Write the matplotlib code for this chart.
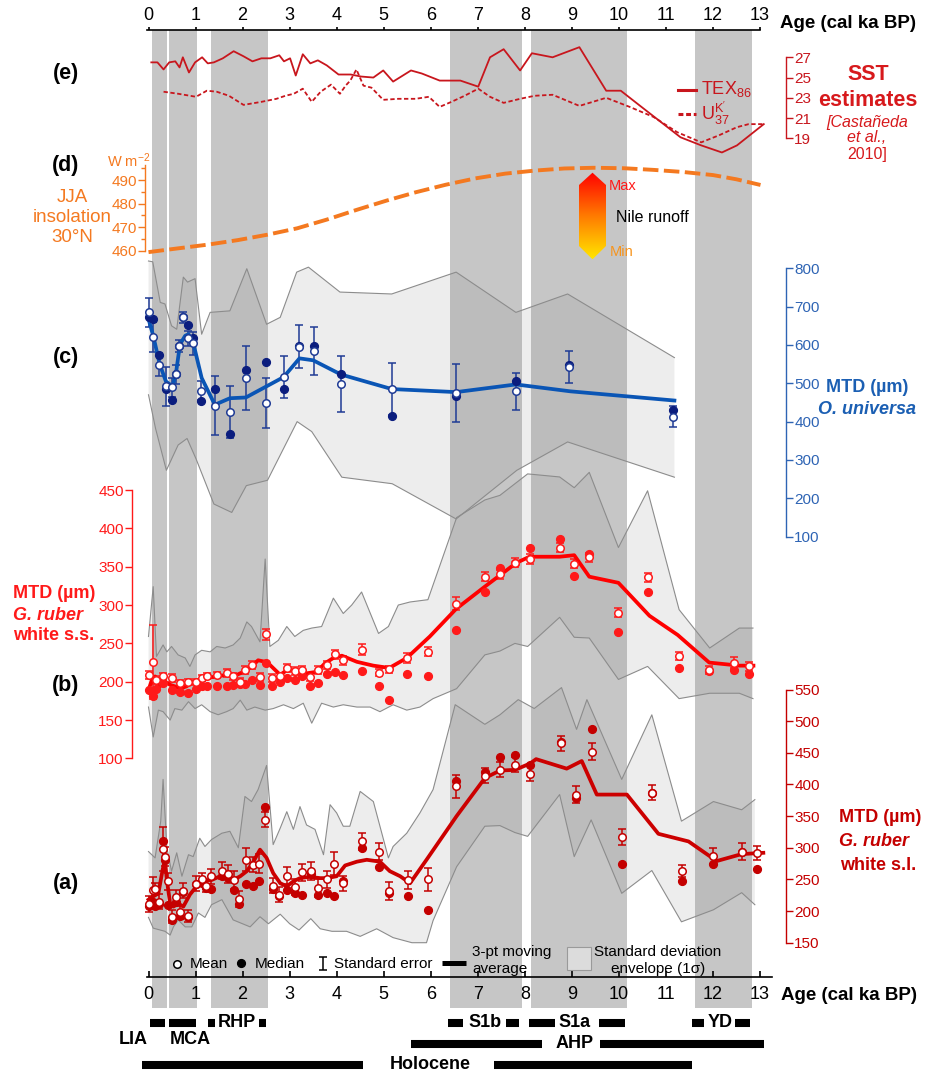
import numpy as np
import matplotlib
matplotlib.use('Agg')
import matplotlib.pyplot as plt
from matplotlib.patches import Polygon, Rectangle
from matplotlib.colors import LinearSegmentedColormap

plt.rcParams['font.family'] = ['Liberation Sans', 'DejaVu Sans']
plt.rcParams['mathtext.fontset'] = 'custom'
plt.rcParams['mathtext.rm'] = 'Liberation Sans'
plt.rcParams['mathtext.it'] = 'Liberation Sans:italic'

# ---------------- data (ages in cal ka BP) ----------------
# grey climate intervals
band_start = [0.07, 0.44, 1.32, 6.42, 8.13, 11.62]
band_end = [0.40, 1.04, 2.53, 7.93, 10.17, 12.82]

# (e) SST estimates, Castaneda et al. 2010
tex_age = [0.06, 0.19, 0.32, 0.44, 0.57, 0.66, 0.73, 0.86, 0.99, 1.14, 1.26, 1.39, 1.58, 1.81,
           2.02, 2.21, 2.40, 2.59, 2.78, 2.88, 3.01, 3.13, 3.28, 3.44, 3.60, 3.79, 4.04, 4.30,
           4.52, 4.78, 4.99, 5.20, 5.58, 5.81, 6.19, 6.44, 6.63, 7.01, 7.26, 7.55, 7.90, 8.15,
           8.59, 9.16, 9.73, 10.04, 10.48, 11.31, 11.75, 12.19, 12.51, 13.08]
tex_sst = [26.5, 26.5, 25.8, 26.5, 26.6, 26.0, 27.0, 25.5, 26.5, 27.0, 26.4, 26.5, 26.9, 27.6,
           27.1, 26.6, 26.9, 26.9, 27.2, 26.6, 26.9, 25.2, 27.3, 26.4, 26.7, 26.2, 25.3, 25.3,
           25.1, 25.0, 25.7, 24.6, 25.7, 25.4, 24.7, 24.7, 24.7, 24.1, 27.0, 27.8, 25.7, 27.4,
           27.0, 28.0, 23.7, 23.7, 22.1, 19.1, 18.3, 17.6, 18.3, 20.4]
uk_age = [0.32, 0.63, 1.01, 1.24, 1.45, 1.71, 2.02, 2.40, 2.72, 2.91, 3.09, 3.28, 3.47, 3.66,
          3.88, 4.07, 4.19, 4.29, 4.42, 4.57, 4.74, 4.99, 5.31, 5.68, 5.96, 6.19, 6.44, 6.72,
          7.01, 7.26, 7.55, 7.90, 8.21, 8.59, 9.16, 9.73, 10.23, 10.74, 11.24, 11.75, 12.13,
          12.51, 12.76, 13.08]
uk_sst = [23.6, 23.4, 23.1, 23.7, 23.6, 23.2, 22.3, 22.6, 22.9, 23.2, 23.4, 23.9, 22.6, 23.6,
          24.3, 23.4, 24.2, 24.7, 25.8, 24.2, 24.0, 22.8, 22.9, 22.9, 23.1, 22.1, 22.6, 23.2,
          23.9, 23.1, 22.5, 22.9, 23.2, 23.3, 22.2, 23.0, 22.1, 21.1, 19.6, 18.6, 19.3,
          20.1, 20.4, 20.4]

# (d) JJA insolation 30N
ins_age = [0.0, 0.63, 1.27, 1.90, 2.53, 3.16, 3.79, 4.42, 5.05, 5.68, 6.32, 6.95, 7.58, 8.21,
           8.84, 9.47, 10.11, 10.74, 11.37, 12.0, 12.5, 13.01]
ins_val = [459.4, 461.0, 462.6, 464.5, 466.8, 469.5, 473.2, 477.3, 481.2, 484.8, 488.0, 490.7,
           492.7, 494.0, 494.9, 495.2, 495.0, 494.3, 493.4, 492.1, 490.3, 487.9]

# (c) O. universa
c_age = [0.01, 0.09, 0.23, 0.37, 0.51, 0.58, 0.65, 0.74, 0.83, 0.95, 1.12, 1.41, 1.73, 2.07,
         2.49, 2.87, 3.21, 3.52, 4.09, 5.17, 6.54, 7.81, 8.94, 11.15]
c_mean = [685, 621, 549, 492, 490, 523, 597, 672, 617, 604, 481, 442, 426, 514, 449, 516, 595,
          584, 498, 485, 475, 479, 542, 413]
c_median = [672, 668, 575, 486, 457, 523, 597, 672, 653, 619, 454, 486, 367, 534, 555, 485, 597,
            597, 524, 415, 467, 507, 547, 431]
c_se = [37, 40, 30, 50, 25, 25, 15, 15, 20, 30, 25, 76, 68, 83, 65, 54, 56, 62, 73, 68, 75, 48,
        42, 28]
c_ma_age = [0.00, 0.10, 0.24, 0.37, 0.51, 0.58, 0.67, 0.78, 0.85, 0.95, 1.13, 1.41, 1.73, 2.07,
            2.87, 3.21, 3.50, 4.09, 5.17, 6.54, 7.81, 8.97, 11.18]
c_ma = [668, 624, 549, 505, 492, 523, 602, 624, 628, 606, 514, 444, 461, 463, 516, 565, 560,
        523, 485, 477, 497, 479, 455]
c_up_age = [0.00, 0.09, 0.25, 0.35, 0.49, 0.60, 0.74, 0.83, 0.99, 1.13, 1.31, 1.73, 2.09, 2.51,
            2.80, 3.15, 3.40, 4.07, 5.17, 6.54, 7.81, 8.91, 11.18]
c_up = [819, 817, 711, 707, 650, 641, 777, 764, 773, 628, 685, 689, 799, 654, 672, 790, 803,
        738, 733, 790, 685, 733, 567]
c_lo_age = [0.00, 0.15, 0.38, 0.63, 0.82, 1.01, 1.39, 1.77, 2.08, 2.53, 3.16, 3.47, 4.11, 5.18,
            6.54, 7.83, 8.91, 11.18]
c_lo = [470, 382, 273, 339, 356, 303, 185, 163, 233, 247, 400, 374, 255, 238, 146, 273, 347, 255]

# (b) G. ruber white s.s.
b_age = [0.00, 0.10, 0.17, 0.30, 0.49, 0.67, 0.85, 1.01, 1.13, 1.24, 1.45, 1.66, 1.80, 1.95,
         2.05, 2.19, 2.36, 2.49, 2.62, 2.80, 2.94, 3.11, 3.27, 3.43, 3.61, 3.79, 3.96, 4.14,
         4.53, 4.91, 5.12, 5.49, 5.95, 6.53, 7.16, 7.47, 7.79, 8.10, 8.74, 9.05, 9.37, 9.99,
         10.62, 11.28, 11.92, 12.45, 12.77]
b_mean = [209, 226, 202, 207, 205, 198, 200, 200, 205, 207, 209, 211, 207, 200, 215, 222, 206,
          262, 205, 207, 218, 214, 215, 206, 215, 222, 236, 228, 242, 212, 216, 231, 239, 302,
          337, 340, 355, 360, 375, 354, 362, 290, 336, 234, 215, 225, 220]
b_median = [189, 181, 191, 198, 189, 187, 185, 191, 194, 194, 194, 194, 196, 197, 197, 202, 196,
            225, 194, 200, 205, 202, 207, 194, 199, 210, 213, 209, 214, 194, 176, 210, 207, 268,
            317, 348, 355, 374, 386, 338, 366, 265, 317, 218, 214, 215, 210]
b_se = [5, 48, 5, 5, 5, 4, 4, 4, 4, 4, 4, 5, 5, 5, 5, 5, 5, 7, 5, 5, 5, 5, 5, 5, 5, 5, 6, 6, 7,
        5, 5, 6, 6, 8, 6, 6, 6, 6, 6, 6, 6, 6, 6, 5, 5, 7, 6]
b_ma_age = [0.0, 0.07, 0.14, 0.24, 0.35, 0.46, 0.56, 0.67, 0.81, 0.95, 1.09, 1.24, 1.45, 1.66,
            1.88, 2.09, 2.23, 2.33, 2.48, 2.58, 2.80, 2.94, 3.15, 3.36, 3.58, 3.75, 3.93, 4.11,
            4.43, 4.78, 5.12, 5.49, 5.98, 6.54, 7.15, 7.82, 8.10, 8.74, 9.05, 9.37, 9.99, 10.65,
            11.25, 11.92, 12.56, 12.86]
b_ma = [189, 202, 207, 194, 200, 196, 194, 191, 194, 200, 202, 205, 207, 209, 209, 215, 222,
        228, 226, 222, 209, 215, 215, 211, 213, 224, 231, 234, 226, 221, 218, 231, 259, 295,
        324, 355, 363, 363, 365, 337, 329, 286, 261, 225, 221, 221]
b_up_age = [0.00, 0.10, 0.17, 0.31, 0.39, 0.49, 0.63, 0.78, 0.88, 0.99, 1.13, 1.31, 1.45, 1.63,
            1.80, 1.95, 2.09, 2.19, 2.37, 2.48, 2.58, 2.76, 2.94, 3.11, 3.29, 3.47, 3.68, 3.93,
            4.14, 4.32, 4.53, 4.89, 5.10, 5.31, 5.56, 5.94, 6.55, 7.15, 7.47, 8.06, 8.74, 9.05,
            9.37, 9.99, 10.61, 11.28, 11.93, 12.56, 12.85]
b_up = [259, 324, 233, 248, 239, 246, 235, 231, 220, 235, 241, 239, 246, 244, 248, 257, 278,
        272, 252, 360, 246, 254, 272, 259, 267, 270, 272, 309, 289, 300, 317, 263, 272, 300,
        304, 307, 414, 437, 443, 471, 467, 453, 473, 375, 449, 294, 244, 270, 270]
b_lo_age = [0.00, 0.10, 0.21, 0.31, 0.46, 0.56, 0.71, 0.85, 0.99, 1.13, 1.31, 1.48, 1.66, 1.80,
            1.95, 2.09, 2.26, 2.48, 2.65, 2.87, 3.08, 3.29, 3.47, 3.68, 3.93, 4.14, 4.43, 4.71,
            4.92, 5.20, 5.49, 5.77, 6.05, 6.55, 7.15, 7.47, 7.79, 8.06, 8.74, 9.05, 9.37, 9.99,
            10.61, 11.28, 11.93, 12.56, 12.85]
b_lo = [167, 128, 163, 161, 150, 165, 163, 174, 165, 170, 161, 157, 161, 165, 176, 163, 167,
        163, 165, 170, 165, 172, 146, 172, 167, 170, 167, 167, 161, 170, 163, 167, 178, 191,
        235, 240, 250, 246, 284, 258, 257, 203, 220, 178, 185, 185, 178]

# (a) G. ruber white s.l.
a_age = [0.02, 0.09, 0.14, 0.23, 0.30, 0.35, 0.42, 0.51, 0.58, 0.67, 0.74, 0.83, 1.01, 1.13,
         1.22, 1.33, 1.56, 1.68, 1.82, 1.93, 2.07, 2.23, 2.35, 2.48, 2.64, 2.78, 2.94, 3.11,
         3.27, 3.45, 3.61, 3.79, 3.95, 4.13, 4.53, 4.91, 5.12, 5.51, 5.95, 6.54, 7.15, 7.47,
         7.79, 8.12, 8.77, 9.09, 9.42, 10.06, 10.70, 11.35, 11.99, 12.62, 12.93]
a_mean = [211, 234, 235, 215, 298, 286, 247, 191, 222, 198, 232, 192, 243, 250, 240, 255, 264,
          259, 249, 219, 281, 273, 275, 344, 240, 226, 256, 238, 261, 263, 236, 250, 275, 244,
          310, 294, 232, 249, 250, 397, 414, 423, 431, 417, 465, 384, 452, 317, 387, 263, 287,
          294, 292]
a_median = [208, 215, 208, 211, 311, 280, 210, 186, 215, 192, 230, 190, 243, 245, 236, 235, 255,
            252, 234, 211, 243, 240, 247, 365, 235, 223, 234, 228, 226, 258, 226, 228, 224, 247,
            300, 270, 228, 223, 202, 406, 419, 444, 446, 431, 467, 379, 487, 275, 387, 248, 274,
            294, 266]
a_se = [12, 20, 10, 12, 35, 15, 13, 10, 12, 10, 12, 10, 12, 10, 10, 12, 14, 14, 14, 12, 18, 12,
        15, 12, 12, 12, 14, 12, 14, 14, 14, 14, 18, 12, 14, 14, 14, 14, 18, 18, 12, 12, 12, 12,
        12, 13, 14, 12, 12, 9, 12, 13, 11]
a_ma_age = [0.00, 0.10, 0.21, 0.30, 0.35, 0.39, 0.46, 0.53, 0.63, 0.74, 0.88, 1.02, 1.20, 1.34,
            1.52, 1.66, 1.80, 1.95, 2.09, 2.23, 2.37, 2.51, 2.65, 2.80, 2.94, 3.08, 3.22, 3.43,
            3.65, 3.79, 4.00, 4.18, 4.43, 4.64, 4.92, 5.13, 5.35, 5.56, 5.91, 6.55, 7.15, 7.47,
            7.79, 8.11, 8.24, 8.89, 9.21, 9.53, 10.17, 10.84, 11.48, 12.08, 12.61, 13.07]
a_ma = [218, 223, 228, 265, 281, 249, 212, 207, 212, 207, 226, 239, 247, 249, 255, 252, 249, 255,
        263, 278, 297, 284, 260, 244, 239, 247, 252, 254, 252, 252, 255, 272, 278, 281, 278,
        263, 255, 244, 281, 350, 410, 422, 423, 433, 440, 425, 437, 384, 384, 322, 310, 279,
        290, 292]
a_up_age = [0.00, 0.14, 0.26, 0.31, 0.39, 0.49, 0.60, 0.71, 0.85, 0.95, 1.09, 1.20, 1.34, 1.56,
            1.73, 1.91, 2.05, 2.19, 2.33, 2.51, 2.65, 2.80, 2.94, 3.08, 3.22, 3.36, 3.54, 3.72,
            3.86, 4.00, 4.14, 4.28, 4.50, 4.78, 5.10, 5.20, 5.49, 5.77, 6.05, 6.52, 7.15, 7.47,
            7.86, 8.20, 8.78, 9.10, 9.32, 10.06, 10.70, 11.33, 12.01, 12.61, 12.89]
a_up = [294, 284, 342, 408, 300, 263, 292, 255, 289, 286, 315, 302, 313, 323, 326, 300, 381, 373,
        392, 430, 305, 331, 357, 329, 365, 336, 329, 289, 368, 355, 334, 334, 389, 373, 284,
        302, 323, 355, 392, 526, 495, 510, 534, 520, 553, 487, 534, 408, 510, 342, 373, 360, 376]
a_lo_age = [0.00, 0.10, 0.35, 0.46, 0.53, 0.63, 0.78, 0.92, 1.06, 1.20, 1.34, 1.56, 1.80, 2.16,
            2.37, 2.55, 2.80, 3.00, 3.20, 3.45, 3.65, 3.90, 4.21, 4.50, 4.85, 5.20, 5.60, 5.91,
            6.05, 6.55, 7.15, 7.47, 7.79, 8.06, 8.74, 9.05, 9.41, 10.06, 10.70, 11.33, 12.01,
            12.61, 12.89]
a_lo = [190, 173, 168, 162, 175, 186, 175, 175, 197, 190, 210, 218, 186, 175, 191, 180, 195, 180,
        170, 188, 172, 168, 168, 160, 172, 158, 150, 150, 185, 270, 334, 335, 324, 318, 384,
        286, 344, 228, 264, 183, 202, 229, 210]

# period bars below the age axis: (label, row, segments)
periods = [
    ('LIA', 0, [(0.03, 0.35)]),
    ('MCA', 0, [(0.43, 1.01)]),
    ('RHP', 0, [(1.26, 1.41), (2.35, 2.50)]),
    ('S1b', 0, [(6.37, 6.69), (7.60, 7.88)]),
    ('S1a', 0, [(8.08, 8.65), (9.57, 10.12)]),
    ('YD', 0, [(11.55, 11.80), (12.47, 12.79)]),
    ('AHP', 1, [(5.58, 8.36), (9.59, 13.09)]),
    ('Holocene', 2, [(-0.13, 4.57), (7.34, 11.55)]),
]
period_text = [('RHP', 1.88, 0), ('S1b', 7.15, 0), ('S1a', 9.05, 0), ('YD', 12.15, 0),
               ('LIA', -0.33, 0.81), ('MCA', 0.89, 0.81), ('AHP', 9.05, 1.0),
               ('Holocene', 6.0, 2.0)]

# ---------------- colours ----------------
BAND = '#c6c6c6'
SST_C = '#c8161d'
SST_T = '#d7191c'
ORANGE = '#f47920'
BLUE_AX = '#2e64b4'
BLUE_LN = '#0a55b5'
NAVY = '#0b1d7e'
BLUE_ER = '#1f3b95'
RED_B = '#ff1a1a'
RED_A = '#c40000'
ENV_EDGE = '#8c8c8c'

# ---------------- layout ----------------
W, H = 932, 1074
fig = plt.figure(figsize=(W / 100, H / 100), dpi=100)

L, R, T, B = 130, 780, 30, 977     # frame of the stacked panels (pixels)
X0, PXK = 148.5, 47.04             # pixel of age 0, pixels per ka
XLIM = ((L - X0) / PXK, (R - X0) / PXK)


def frame(l, t, r, b):
    return [l / W, 1 - b / H, (r - l) / W, (b - t) / H]


def xfrac(px):
    return (px - L) / (R - L)


# bottom age axis + grey intervals
ax0 = fig.add_axes(frame(L, T, R, B))
ax0.set_xlim(XLIM)
ax0.set_ylim(0, 1)
ax0.set_yticks([])
for s in ['left', 'right', 'top']:
    ax0.spines[s].set_visible(False)
ax0.spines['bottom'].set_bounds(-0.03, 13.25)
ax0.spines['bottom'].set_linewidth(1.2)
ax0.set_xticks(range(14))
ax0.tick_params(axis='x', direction='in', length=4, width=1.2, labelsize=13, pad=6.5)
for s, e in zip(band_start, band_end):
    ax0.axvspan(s, e, ymin=-0.033, ymax=1, color=BAND, lw=0, clip_on=False, zorder=0)

# top age axis
axt = fig.add_axes(frame(L, T, R, B))
axt.set_xlim(XLIM)
axt.patch.set_visible(False)
axt.set_yticks([])
for s in ['left', 'right', 'bottom']:
    axt.spines[s].set_visible(False)
axt.spines['top'].set_bounds(-0.03, 13.0)
axt.spines['top'].set_linewidth(1.2)
axt.xaxis.tick_top()
axt.set_xticks(range(14))
axt.tick_params(axis='x', direction='out', length=2.5, width=1.2, labelsize=13, pad=1.5)


def panel(v0, y0, k):
    """Transparent axes sharing the frame; value v0 sits at pixel y0, k pixels per unit."""
    ax = fig.add_axes(frame(L, T, R, B))
    ax.set_xlim(XLIM)
    ax.set_ylim(v0 - (B - y0) / k, v0 + (y0 - T) / k)
    ax.patch.set_visible(False)
    for sp in ax.spines.values():
        sp.set_visible(False)
    ax.set_xticks([])
    return ax


def side_axis(ax, side, px, lo, hi, ticks, color, minor=None):
    sp = ax.spines[side]
    sp.set_visible(True)
    sp.set_color(color)
    sp.set_linewidth(1)
    sp.set_position(('axes', xfrac(px)))
    sp.set_bounds(lo, hi)
    if side == 'right':
        ax.yaxis.tick_right()
    else:
        ax.yaxis.tick_left()
    ax.set_yticks(ticks)
    if minor is not None:
        ax.set_yticks(minor, minor=True)
    ax.tick_params(axis='y', which='both', direction='out', colors=color, labelsize=11, pad=1)
    ax.tick_params(axis='y', which='major', length=5, width=1)
    ax.tick_params(axis='y', which='minor', length=3, width=1)


def envelope(ax, ua, uv, la, lv):
    ax.fill(np.concatenate([ua, la[::-1]]), np.concatenate([uv, lv[::-1]]),
            facecolor=(0.5, 0.5, 0.5), alpha=0.14, edgecolor='none', zorder=1)
    ax.plot(ua, uv, color=ENV_EDGE, lw=0.8, zorder=1.5)
    ax.plot(la, lv, color=ENV_EDGE, lw=0.8, zorder=1.5)


def points(ax, age, mean, med, se, ecol, fcol, ma_age, ma, lcol):
    ax.errorbar(age, mean, yerr=se, fmt='none', ecolor=ecol, elinewidth=1.1, capsize=2.6,
                capthick=1.1, zorder=3)
    ax.plot(ma_age, ma, color=lcol, lw=2.7, zorder=3.5, solid_joinstyle='round')
    ax.plot(age, med, 'o', ms=5.6, mfc=fcol, mec=fcol, ls='none', zorder=4)
    ax.plot(age, mean, 'o', ms=5.4, mfc='white', mec=ecol, mew=1.1, ls='none', zorder=5)


# (a) G. ruber white s.l.
ax_a = panel(550, 689.5, 0.633)
side_axis(ax_a, 'right', 786, 150, 550, range(150, 551, 50), RED_A)
envelope(ax_a, np.array(a_up_age), np.array(a_up), np.array(a_lo_age), np.array(a_lo))
points(ax_a, a_age, a_mean, a_median, a_se, RED_A, RED_A, a_ma_age, a_ma, '#cc0000')

# (b) G. ruber white s.s.
ax_b = panel(450, 490, 0.767)
side_axis(ax_b, 'left', 132, 100, 450, range(100, 451, 50), RED_B)
envelope(ax_b, np.array(b_up_age), np.array(b_up), np.array(b_lo_age), np.array(b_lo))
points(ax_b, b_age, b_mean, b_median, b_se, RED_B, RED_B, b_ma_age, b_ma, '#ff0000')

# (c) O. universa
ax_c = panel(800, 268.3, 0.3833)
side_axis(ax_c, 'right', 786, 100, 800, range(100, 801, 100), BLUE_AX)
envelope(ax_c, np.array(c_up_age), np.array(c_up), np.array(c_lo_age), np.array(c_lo))
points(ax_c, c_age, c_mean, c_median, c_se, BLUE_ER, NAVY, c_ma_age, c_ma, BLUE_LN)

# (d) insolation
ax_d = panel(460, 250.7, 2.356)
side_axis(ax_d, 'left', 145, 460, 496.4, [460, 470, 480, 490], ORANGE, minor=[465, 475, 485, 495])
ax_d.plot(ins_age, ins_val, color=ORANGE, lw=2.8, ls=(0, (4.0, 1.4)), zorder=3)

# (e) SST
ax_e = panel(27, 57.3, 10.125)
side_axis(ax_e, 'right', 786, 19, 27, [19, 21, 23, 25, 27], SST_C)
ax_e.plot(tex_age, tex_sst, color=SST_C, lw=1.3, zorder=3)
ax_e.plot(uk_age, uk_sst, color=SST_C, lw=1.3, ls=(0, (2.4, 1.4)), zorder=3)

# period bars
axp = fig.add_axes(frame(L, 1005, R, 1074))
axp.set_xlim(XLIM)
axp.set_ylim(2.43, -0.857)
axp.axis('off')
for name, row, segs in periods:
    for s, e in segs:
        axp.plot([s, e], [row, row], color='black', lw=5.8, solid_capstyle='butt')
for name, x, row in period_text:
    axp.text(x, row, name, ha='center', va='center', fontsize=13, fontweight='bold')

# overlay in pixel units for text, legend and the runoff arrow
axo = fig.add_axes([0, 0, 1, 1])
axo.patch.set_visible(False)
axo.axis('off')

# Nile runoff arrow
nile = LinearSegmentedColormap.from_list('nile', ['#ff0000', '#ff7a00', '#ffe600'])
im = axo.imshow(np.linspace(0, 1, 256).reshape(-1, 1), cmap=nile, aspect='auto',
                extent=(579, 606, 259.3, 172.7), origin='upper', zorder=6)
arrow = Polygon([(592.5, 172.7), (606, 185), (606, 246), (592.5, 259.3), (579, 246), (579, 185)],
                closed=True, facecolor='none', edgecolor='none', transform=axo.transData)
axo.add_patch(arrow)
im.set_clip_path(arrow)
axo.set_xlim(0, W)
axo.set_ylim(H, 0)


def txt(x, y, s, **kw):
    kw.setdefault('ha', 'center')
    kw.setdefault('va', 'center')
    axo.text(x, y, s, **kw)


txt(609, 186, 'Max', ha='left', color='#ff1a1a', fontsize=10.5)
txt(616, 218, 'Nile runoff', ha='left', color='black', fontsize=11.5)
txt(610, 252, 'Min', ha='left', color='#f7941d', fontsize=10.5)

# age axis titles
txt(780, 24, 'Age (cal ka BP)', ha='left', fontsize=13.5, fontweight='bold')
txt(781, 995, 'Age (cal ka BP)', ha='left', fontsize=13.5, fontweight='bold')

# panel letters
for lab, y in [('(e)', 73), ('(d)', 165), ('(c)', 358), ('(b)', 685), ('(a)', 883)]:
    txt(66, y, lab, fontsize=15.5, fontweight='bold')

# SST legend and title
axo.plot([678, 696], [90, 90], color=SST_C, lw=2.2)
axo.plot([678, 696], [114, 114], color=SST_C, lw=2.2, ls=(0, (1.6, 0.9)))
txt(701, 89, r'TEX$_{\mathrm{86}}$', ha='left', color=SST_C, fontsize=13)
txt(701, 113, r"U$^{\mathrm{K'}}_{\mathrm{37}}$", ha='left', color=SST_C, fontsize=13)
txt(868, 75, 'SST', color=SST_T, fontsize=15.5, fontweight='bold')
txt(868, 100, 'estimates', color=SST_T, fontsize=15.5, fontweight='bold')
txt(867, 122, '[Castañeda', color=SST_T, fontsize=11.5, style='italic')
txt(867, 138, 'et al.,', color=SST_T, fontsize=11.5, style='italic')
txt(867, 155, '2010]', color=SST_T, fontsize=11.5)

# insolation labels
txt(129, 161, r'W m$^{\mathrm{-2}}$', color=ORANGE, fontsize=10.5)
txt(72, 197, 'JJA', color=ORANGE, fontsize=13.5)
txt(72, 218, 'insolation', color=ORANGE, fontsize=13.5)
txt(72, 238, '30°N', color=ORANGE, fontsize=13.5)

# MTD labels
txt(867, 388, 'MTD (µm)', color='#1b5fb3', fontsize=13, fontweight='bold')
txt(867, 409, 'O. universa', color='#1b5fb3', fontsize=13, fontweight='bold', style='italic')
txt(13, 593, 'MTD (µm)', ha='left', color=RED_B, fontsize=13, fontweight='bold')
txt(13, 615, 'G. ruber', ha='left', color=RED_B, fontsize=13, fontweight='bold', style='italic')
txt(13, 636, 'white s.s.', ha='left', color=RED_B, fontsize=13, fontweight='bold')
txt(880, 818, 'MTD (µm)', color=RED_A, fontsize=13, fontweight='bold')
txt(874, 842, 'G. ruber', color=RED_A, fontsize=13, fontweight='bold', style='italic')
txt(878, 866, 'white s.l.', color=RED_A, fontsize=13, fontweight='bold')

# symbol legend
axo.plot(176.5, 964, 'o', ms=5.4, mfc='white', mec='black', mew=1.1)
txt(190, 964, 'Mean', ha='left', fontsize=11)
axo.plot(240.5, 963, 'o', ms=5.6, mfc='black', mec='black')
txt(255, 964, 'Median', ha='left', fontsize=11)
axo.errorbar([322.5], [963.5], yerr=[6.5], fmt='none', ecolor='black', elinewidth=1.1,
             capsize=2.6, capthick=1.1)
txt(334, 964, 'Standard error', ha='left', fontsize=11)
axo.plot([442, 466], [963, 963], color='black', lw=3.6, solid_capstyle='butt')
txt(472, 952, '3-pt moving', ha='left', fontsize=11)
txt(472, 969, 'average', ha='left', fontsize=11)
axo.add_patch(Rectangle((567, 947), 24, 23, facecolor='#dcdcdc', edgecolor='#9a9a9a', lw=0.8))
txt(658, 952, 'Standard deviation', fontsize=11)
txt(658, 969, 'envelope (1σ)', fontsize=11)

fig.savefig('out.png', dpi=100)
